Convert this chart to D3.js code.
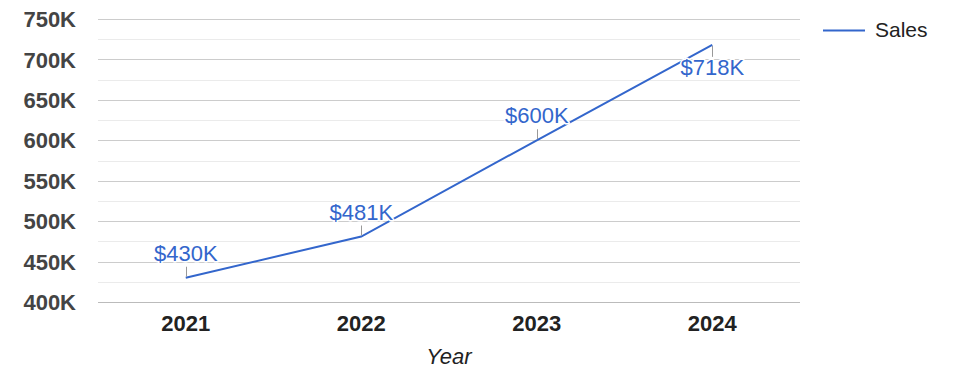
<!DOCTYPE html>
<html>
<head>
<meta charset="utf-8">
<script src="https://cdn.jsdelivr.net/npm/d3@7/dist/d3.min.js"></script>
<style>
html,body{margin:0;padding:0;background:#fff;}
svg{display:block;font-family:Arial,"Liberation Sans",sans-serif;}
</style>
</head>
<body>
<svg id="chart" width="975" height="378"></svg>
<script>
const years = ["2021", "2022", "2023", "2024"];
const sales = [430000, 481000, 600000, 718000];
const labels = ["$430K", "$481K", "$600K", "$718K"];
const yTicks = [400000, 450000, 500000, 550000, 600000, 650000, 700000, 750000];
const seriesName = "Sales";
const xTitle = "Year";

(function () {
const svg = d3.select("#chart");
const pLeft = 98, pRight = 800, pTop = 19, pBottom = 302;
const blue = "#3366cc";
const ff = "Arial, 'Liberation Sans', sans-serif";

const x = d3.scaleBand().domain(years).range([pLeft, pRight]);
const y = d3.scaleLinear().domain([400000, 750000]).range([pBottom, pTop]);

// minor gridlines
const minor = d3.range(425000, 750000, 50000);
svg.append("g").selectAll("line").data(minor).join("line")
  .attr("x1", pLeft).attr("x2", pRight)
  .attr("y1", d => Math.round(y(d)) + 0.5).attr("y2", d => Math.round(y(d)) + 0.5)
  .attr("stroke", "#ebebeb").attr("stroke-width", 1);

// major gridlines
svg.append("g").selectAll("line").data(yTicks).join("line")
  .attr("x1", pLeft).attr("x2", pRight)
  .attr("y1", d => Math.round(y(d)) + 0.5).attr("y2", d => Math.round(y(d)) + 0.5)
  .attr("stroke", d => d === 400000 ? "#bbbbbb" : "#cccccc").attr("stroke-width", 1);

// y axis labels
const yAxis = d3.axisLeft(y).tickValues(yTicks).tickSize(0).tickPadding(0)
  .tickFormat(d => (d / 1000) + "K");
const yg = svg.append("g").attr("transform", `translate(76,0)`).call(yAxis);
yg.select(".domain").remove();
yg.selectAll("text").attr("font-size", 22).attr("font-weight", "bold")
  .attr("fill", "#444").attr("font-family", ff).attr("dy", "0.35em");

// x axis labels
const xAxis = d3.axisBottom(x).tickSize(0).tickPadding(0);
const xg = svg.append("g").attr("transform", `translate(0,${pBottom + 13})`).call(xAxis);
xg.select(".domain").remove();
xg.selectAll("text").attr("font-size", 22).attr("font-weight", "bold")
  .attr("fill", "#222").attr("font-family", ff).attr("dy", "0.71em");

// x title
svg.append("text").attr("x", (pLeft + pRight) / 2).attr("y", 364)
  .attr("text-anchor", "middle").attr("font-size", 22).attr("font-style", "italic")
  .attr("fill", "#222").text(xTitle);

const pts = years.map((yr, i) => ({ yr, v: sales[i], lab: labels[i], i }));
const cx = d => x(d.yr) + x.bandwidth() / 2;

// line
const line = d3.line().x(cx).y(d => y(d.v));
svg.append("path").datum(pts).attr("d", line)
  .attr("fill", "none").attr("stroke", blue).attr("stroke-width", 2);

// annotations
const ann = svg.append("g");
pts.forEach(d => {
  const px = cx(d), py = y(d.v);
  const below = d.i === pts.length - 1;
  ann.append("line")
    .attr("x1", Math.round(px) + 0.5).attr("x2", Math.round(px) + 0.5)
    .attr("y1", below ? py + 1 : py - 1).attr("y2", below ? py + 12 : py - 11)
    .attr("stroke", "#999").attr("stroke-width", 1);
  const ty = below ? py + 30 : py - 17;
  ann.append("text").attr("x", px).attr("y", ty).attr("text-anchor", "middle")
    .attr("font-size", 22).attr("fill", "none").attr("stroke", "#fff")
    .attr("stroke-width", 3).attr("stroke-linejoin", "round").text(d.lab);
  ann.append("text").attr("x", px).attr("y", ty).attr("text-anchor", "middle")
    .attr("font-size", 22).attr("fill", blue).text(d.lab);
});

// legend
svg.append("line").attr("x1", 823).attr("x2", 865).attr("y1", 30.5).attr("y2", 30.5)
  .attr("stroke", blue).attr("stroke-width", 2);
svg.append("text").attr("x", 875).attr("y", 37).attr("font-size", 21)
  .attr("fill", "#222").text(seriesName);
})();
</script>
</body>
</html>
